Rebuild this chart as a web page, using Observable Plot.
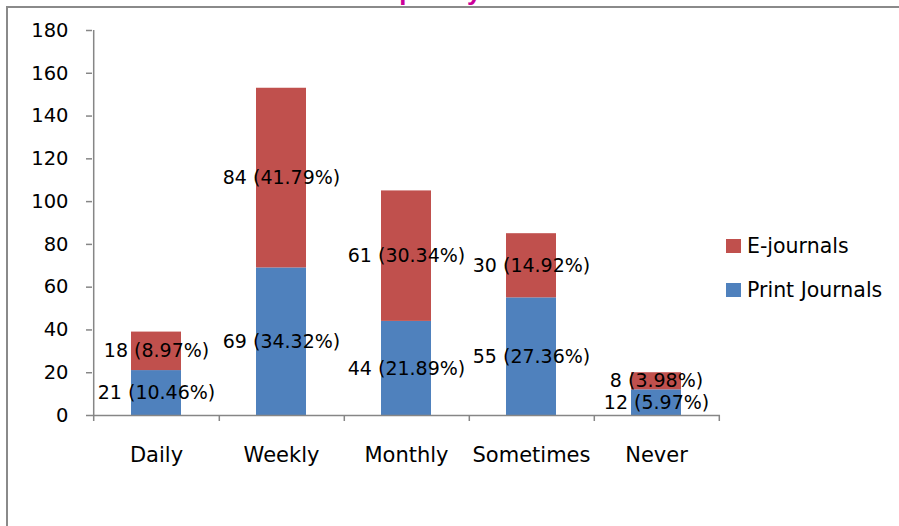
<!DOCTYPE html>
<html>
<head>
<meta charset="utf-8">
<script src="https://cdn.jsdelivr.net/npm/d3@7"></script>
<script src="https://cdn.jsdelivr.net/npm/@observablehq/plot@0.6"></script>
<style>
  html, body { margin: 0; padding: 0; background: #fff; overflow: hidden; }
  #wrap { position: relative; width: 899px; height: 526px; overflow: hidden; font-family: "DejaVu Sans", sans-serif; }
  #border { position: absolute; left: 6px; top: 6px; width: 1000px; height: 700px; border: 2px solid #8a8a8a; box-sizing: border-box; }
  #title { position: absolute; left: 0; top: 0; }
  #chart { position: absolute; left: 0; top: 0; }
  .legend { position: absolute; left: 726px; font-size: 20.5px; color: #000; }
  .legend .sw { position: absolute; left: 0; width: 15px; height: 14px; }
  .legend .lb { position: absolute; left: 21px; white-space: nowrap; line-height: 20px; }
</style>
</head>
<body>
<div id="wrap">
  <div id="border"></div>
  <svg id="title" width="899" height="8"><text x="350" y="0" fill="#cc0099" font-family="Liberation Sans" font-weight="bold" font-size="26">Frequency</text></svg>
  <div id="chart"></div>
  <div id="legend"></div>
</div>
<script>
// ---- data ----
const categories = ["Daily", "Weekly", "Monthly", "Sometimes", "Never"];
const seriesNames = ["Print Journals", "E-journals"];
const printJournals = [21, 69, 44, 55, 12];
const printPct = [10.46, 34.32, 21.89, 27.36, 5.97];
const eJournals = [18, 84, 61, 30, 8];
const ePct = [8.97, 41.79, 30.34, 14.92, 3.98];
const yTicks = [0, 20, 40, 60, 80, 100, 120, 140, 160, 180];
const colors = ["#4f81bd", "#c0504d"];

// ---- layout ----
const W = 899, H = 526;
const mL = 92, mR = 179, mT = 30, mB = 111;
const step = (W - mL - mR) / categories.length;
const gray = "#868686";

const rows = [];
categories.forEach((c, i) => {
  rows.push({cat: c, series: seriesNames[0], value: printJournals[i], pct: printPct[i]});
});
categories.forEach((c, i) => {
  rows.push({cat: c, series: seriesNames[1], value: eJournals[i], pct: ePct[i]});
});
const fmt = d => `${d.value} (${d.pct.toFixed(2)}%)`;

const chart = Plot.plot({
  width: W,
  height: H,
  marginLeft: mL,
  marginRight: mR,
  marginTop: mT,
  marginBottom: mB,
  style: {fontFamily: "DejaVu Sans, sans-serif", fontSize: "19px", color: "#000", background: "transparent"},
  x: {domain: categories, paddingInner: 0.6, paddingOuter: 0.3, axis: null, label: null},
  y: {domain: [0, 180], axis: null, label: null},
  color: {domain: seriesNames, range: colors},
  marks: [
    Plot.barY(rows, {x: "cat", y: "value", fill: "series"}),
    Plot.ruleY([0], {stroke: gray, strokeWidth: 1.5}),
    // y axis line (at left boundary of first category)
    Plot.ruleX([categories[0]], {x: d => d, y1: 180, y2: 0, dx: -step / 2, stroke: gray, strokeWidth: 1.5, insetBottom: -6}),
    // category boundary ticks
    Plot.ruleX(categories, {x: d => d, y1: 0, y2: 0, dx: step / 2, stroke: gray, strokeWidth: 1.5, insetBottom: -6}),
    Plot.axisY({ticks: yTicks, tickSize: 6, text: null, stroke: gray, strokeWidth: 1.5, anchor: "left", label: null}),
    Plot.axisY({ticks: yTicks, tickSize: 0, tickPadding: 24, tickFormat: d => String(d), fill: "#000", anchor: "left", label: null, fontSize: 19.5}),
    Plot.axisX({tickSize: 0, tickPadding: 32, fill: "#000", anchor: "bottom", label: null, fontSize: 21}),
    Plot.text(rows, Plot.stackY({x: "cat", y: "value", z: "series", text: fmt, fill: "#000"}))
  ]
});
document.getElementById("chart").appendChild(chart);

// ---- legend ----
const legend = document.getElementById("legend");
const legendItems = [
  {name: seriesNames[1], color: colors[1], top: 239},
  {name: seriesNames[0], color: colors[0], top: 283}
];
for (const it of legendItems) {
  const d = document.createElement("div");
  d.className = "legend";
  d.style.top = it.top + "px";
  d.innerHTML = `<div class="sw" style="background:${it.color}"></div><div class="lb" style="top:-3px">${it.name}</div>`;
  legend.appendChild(d);
}
</script>
</body>
</html>
